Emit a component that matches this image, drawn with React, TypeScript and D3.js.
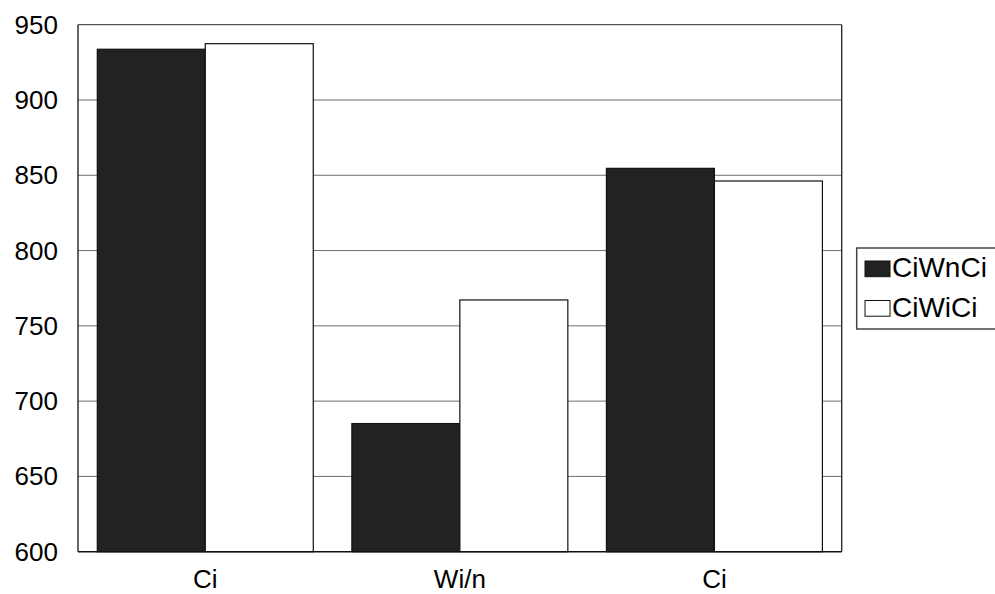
import React from "react";
import * as d3 from "d3";

const categories = ["Ci", "Wi/n", "Ci"];
const seriesNames = ["CiWnCi", "CiWiCi"];
const seriesCiWnCi = [933.7, 685.1, 854.6];
const seriesCiWiCi = [937.4, 767.2, 846.2];
const yTicks = [600, 650, 700, 750, 800, 850, 900, 950];
const seriesFill = ["#222222", "#ffffff"];

const W = 995;
const H = 594;
const M = { left: 78, right: 841.7, top: 24.7, bottom: 551.7 };
const FONT = "'Liberation Sans', Arial, sans-serif";

export default function App() {
  const idx = categories.map((_, i) => i);
  const x = d3
    .scaleBand<number>()
    .domain(idx)
    .range([M.left, M.right])
    .paddingInner(0.1516)
    .paddingOuter(0.0758);
  const x1 = d3.scaleBand<number>().domain([0, 1]).range([0, x.bandwidth()]);
  const y = d3.scaleLinear().domain([600, 950]).range([M.bottom, M.top]);
  const values = [seriesCiWnCi, seriesCiWiCi];

  return (
    <svg
      width={W}
      height={H}
      style={{ position: "absolute", left: 0, top: 0, background: "#fff" }}
      fontFamily={FONT}
    >
      <rect x={0} y={0} width={W} height={H} fill="#fff" />
      {yTicks.slice(1, -1).map((t) => (
        <line
          key={t}
          x1={M.left}
          x2={M.right}
          y1={y(t)}
          y2={y(t)}
          stroke="#707070"
          strokeWidth={1}
        />
      ))}
      <line x1={M.left} x2={M.right} y1={M.top} y2={M.top} stroke="#555" strokeWidth={1.3} />
      <line x1={M.right} x2={M.right} y1={M.top} y2={M.bottom} stroke="#222" strokeWidth={1.3} />
      {values.map((vals, s) =>
        vals.map((v, i) => (
          <rect
            key={`${s}-${i}`}
            x={(x(i) as number) + (x1(s) as number)}
            y={y(v)}
            width={x1.bandwidth()}
            height={y(600) - y(v)}
            fill={seriesFill[s]}
            stroke="#111"
            strokeWidth={1.2}
          />
        ))
      )}
      <line x1={M.left} x2={M.left} y1={M.top} y2={M.bottom} stroke="#111" strokeWidth={1.3} />
      <line x1={M.left} x2={M.right} y1={M.bottom} y2={M.bottom} stroke="#111" strokeWidth={1.5} />
      {yTicks.map((t) => (
        <text
          key={t}
          x={M.left - 20}
          y={y(t)}
          textAnchor="end"
          dominantBaseline="central"
          fontSize={26}
          fill="#000"
        >
          {t}
        </text>
      ))}
      {categories.map((c, i) => (
        <text
          key={i}
          x={(x(i) as number) + x.bandwidth() / 2}
          y={588}
          textAnchor="middle"
          fontSize={26}
          fill="#000"
        >
          {c}
        </text>
      ))}
      <rect x={856.7} y={248} width={150} height={81} fill="#fff" stroke="#444" strokeWidth={1.5} />
      {seriesNames.map((n, s) => (
        <g key={n} transform={`translate(0, ${s * 39.5})`}>
          <rect
            x={865}
            y={261}
            width={25}
            height={15.7}
            fill={seriesFill[s]}
            stroke="#111"
            strokeWidth={1}
          />
          <text x={892} y={277} fontSize={28} fill="#000">
            {n}
          </text>
        </g>
      ))}
    </svg>
  );
}
